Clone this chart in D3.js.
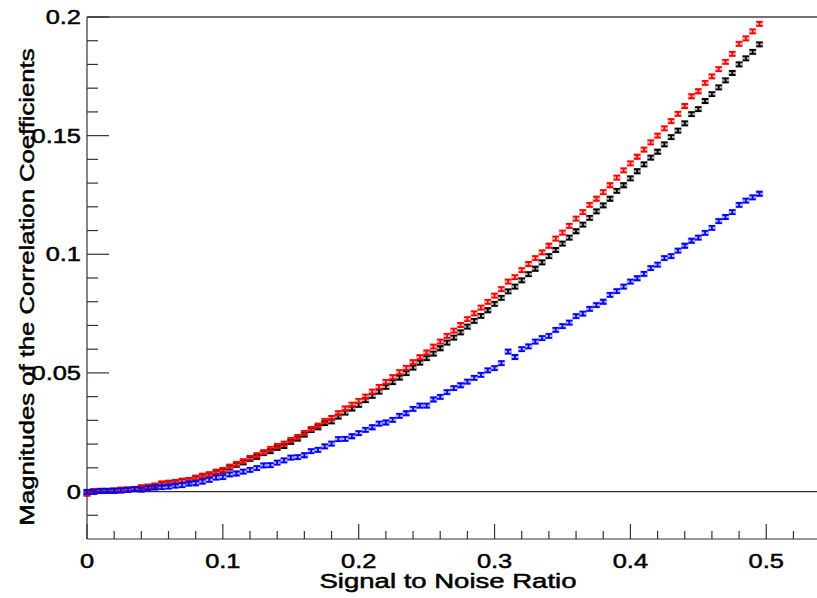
<!DOCTYPE html>
<html><head><meta charset="utf-8">
<script src="https://cdn.jsdelivr.net/npm/d3@7"></script>
<style>html,body{margin:0;padding:0;background:#fff;}svg{display:block;}</style>
</head><body>
<svg id="chart" width="817" height="598"></svg>
<script>
const snr = [0,0.005,0.01,0.015,0.02,0.025,0.03,0.035,0.04,0.045,0.05,0.055,0.06,0.065,0.07,0.075,0.08,0.085,0.09,0.095,
0.1,0.105,0.11,0.115,0.12,0.125,0.13,0.135,0.14,0.145,0.15,0.155,0.16,0.165,0.17,0.175,0.18,0.185,0.19,0.195,
0.2,0.205,0.21,0.215,0.22,0.225,0.23,0.235,0.24,0.245,0.25,0.255,0.26,0.265,0.27,0.275,0.28,0.285,0.29,0.295,
0.3,0.305,0.31,0.315,0.32,0.325,0.33,0.335,0.34,0.345,0.35,0.355,0.36,0.365,0.37,0.375,0.38,0.385,0.39,0.395,
0.4,0.405,0.41,0.415,0.42,0.425,0.43,0.435,0.44,0.445,0.45,0.455,0.46,0.465,0.47,0.475,0.48,0.485,0.49,0.495];

const redSeries = [-0.0008,0.0002,0.0003,0.0003,0.0004,0.0008,0.0008,0.0011,0.0017,0.0021,0.0025,0.0034,0.0037,0.0041,0.0046,0.0049,0.0059,0.0067,0.0073,0.0084,
0.0091,0.0105,0.0117,0.0128,0.0142,0.0153,0.0166,0.018,0.0192,0.0202,0.0218,0.023,0.0247,0.0264,0.0278,0.0298,0.031,0.033,0.035,0.0366,
0.0382,0.04,0.0421,0.0441,0.0462,0.0482,0.0503,0.0521,0.0545,0.0566,0.0586,0.0611,0.0632,0.0656,0.0678,0.0702,0.0727,0.0751,0.0775,0.0799,
0.0826,0.0853,0.0885,0.0904,0.0933,0.0959,0.0984,0.1008,0.1036,0.1066,0.1091,0.112,0.115,0.1178,0.1208,0.1234,0.1262,0.1291,0.1323,0.1354,
0.1383,0.1411,0.1441,0.1472,0.15,0.1531,0.1561,0.1592,0.1625,0.1666,0.1687,0.1722,0.175,0.178,0.1811,0.1845,0.1887,0.191,0.1939,0.1971];

const blackSeries = [-0.0008,0.0001,0.0002,0.0003,0.0004,0.0007,0.0008,0.001,0.0016,0.002,0.0024,0.0032,0.0035,0.0039,0.0044,0.0047,0.0056,0.0064,0.007,0.008,
0.0087,0.0101,0.0112,0.0123,0.0138,0.0146,0.0162,0.017,0.0184,0.0192,0.0209,0.0223,0.024,0.0259,0.0271,0.0288,0.0296,0.0316,0.0333,0.035,
0.0365,0.0385,0.0403,0.0421,0.0441,0.0461,0.048,0.0499,0.0522,0.0543,0.0562,0.0581,0.0604,0.0628,0.0649,0.0671,0.0695,0.0719,0.074,0.0764,
0.0791,0.0816,0.0844,0.0864,0.089,0.0916,0.0939,0.0966,0.0992,0.1018,0.1045,0.107,0.1097,0.1125,0.1153,0.1181,0.1206,0.1234,0.1267,0.1291,
0.132,0.135,0.1379,0.1407,0.1432,0.1463,0.1494,0.1521,0.1552,0.1591,0.1612,0.1646,0.1675,0.1703,0.1733,0.1764,0.18,0.1826,0.1853,0.1885];

const blueSeries = [-0.0001,-0.0001,0.0003,0.0003,0.0003,0.0004,0.0007,0.001,0.0008,0.0014,0.0017,0.0019,0.0021,0.0025,0.0027,0.0034,0.0035,0.0042,0.0049,0.0059,
0.0061,0.0072,0.0076,0.0084,0.0091,0.0099,0.011,0.0111,0.0122,0.0131,0.0143,0.0145,0.0153,0.017,0.0176,0.019,0.0202,0.0221,0.0222,0.0233,
0.0246,0.026,0.0271,0.0286,0.0291,0.0302,0.0319,0.033,0.0348,0.0362,0.0362,0.0388,0.0399,0.0419,0.0436,0.0448,0.0463,0.0479,0.0492,0.0511,
0.052,0.0541,0.059,0.0567,0.06,0.0612,0.0632,0.0647,0.0656,0.0681,0.0697,0.0712,0.0739,0.075,0.077,0.0786,0.08,0.0829,0.0845,0.0864,
0.0885,0.0899,0.0917,0.0942,0.0956,0.0984,0.0992,0.1015,0.1036,0.1057,0.107,0.109,0.1111,0.114,0.1157,0.1178,0.1208,0.1226,0.124,0.1255];

const xMajorTicks = [0,0.1,0.2,0.3,0.4,0.5];
const xTickLabels = ["0","0.1","0.2","0.3","0.4","0.5"];
const xMinorTicks = [0.02,0.04,0.06,0.08,0.12,0.14,0.16,0.18,0.22,0.24,0.26,0.28,0.32,0.34,0.36,0.38,0.42,0.44,0.46,0.48,0.52];
const yMajorTicks = [0,0.05,0.1,0.15,0.2];
const yTickLabels = ["0","0.05","0.1","0.15","0.2"];
const yMinorTicks = [-0.01,0.01,0.02,0.03,0.04,0.06,0.07,0.08,0.09,0.11,0.12,0.13,0.14,0.16,0.17,0.18,0.19];
const xTitle = "Signal to Noise Ratio";
const yTitle = "Magnitudes of the Correlation Coefficients";

const svg = d3.select("#chart");
const x = d3.scaleLinear().domain([0, 0.54]).range([87, 820.6]);
const y = d3.scaleLinear().domain([-0.02, 0.2]).range([539, 17]);
const FONT = "'Liberation Sans', Arial, sans-serif";
const SX = 1.24;

function styleText(sel, size) {
  return sel.attr("font-family", FONT).attr("font-size", size || 20).attr("fill", "#000")
    .attr("stroke", "#000").attr("stroke-width", 0.5);
}

const axisColor = "#333";
svg.append("line").attr("x1", x(0)).attr("x2", 817).attr("y1", y(0.2)).attr("y2", y(0.2))
  .attr("stroke", "#444").attr("stroke-width", 1.5);
svg.append("line").attr("x1", x(0)).attr("x2", 817).attr("y1", y(-0.02)).attr("y2", y(-0.02))
  .attr("stroke", axisColor).attr("stroke-width", 1.2);
svg.append("line").attr("x1", x(0)).attr("x2", x(0)).attr("y1", y(0.2)).attr("y2", y(-0.02))
  .attr("stroke", axisColor).attr("stroke-width", 1.2);
svg.append("line").attr("x1", x(0)).attr("x2", 817).attr("y1", y(0)).attr("y2", y(0))
  .attr("stroke", axisColor).attr("stroke-width", 1.2);

const xb = y(-0.02);
svg.append("g").selectAll("line").data(xMajorTicks).join("line")
  .attr("x1", d => x(d)).attr("x2", d => x(d)).attr("y1", xb).attr("y2", xb - 15)
  .attr("stroke", axisColor).attr("stroke-width", 1.2);
svg.append("g").selectAll("line").data(xMinorTicks).join("line")
  .attr("x1", d => x(d)).attr("x2", d => x(d)).attr("y1", xb).attr("y2", xb - 8)
  .attr("stroke", axisColor).attr("stroke-width", 1.2);
styleText(svg.append("g").selectAll("text").data(xMajorTicks).join("text")
  .attr("transform", d => `translate(${x(d)},568) scale(${SX},1)`).attr("text-anchor", "middle")
  .text((d, i) => xTickLabels[i]), 20.5);

const yl = x(0);
svg.append("g").selectAll("line").data(yMajorTicks).join("line")
  .attr("x1", yl).attr("x2", yl + 22).attr("y1", d => y(d)).attr("y2", d => y(d))
  .attr("stroke", axisColor).attr("stroke-width", 1.2);
svg.append("g").selectAll("line").data(yMinorTicks).join("line")
  .attr("x1", yl).attr("x2", yl + 11).attr("y1", d => y(d)).attr("y2", d => y(d))
  .attr("stroke", axisColor).attr("stroke-width", 1.2);
styleText(svg.append("g").selectAll("text").data(yMajorTicks).join("text")
  .attr("transform", d => `translate(81,${y(d) + 7.2}) scale(${SX},1)`).attr("text-anchor", "end")
  .text((d, i) => yTickLabels[i]), 20.5);

styleText(svg.append("text").attr("x", 448).attr("y", 588).attr("text-anchor", "middle")
  .attr("textLength", 257).attr("lengthAdjust", "spacingAndGlyphs")
  .text(xTitle));
styleText(svg.append("text").attr("transform", "translate(34,287) rotate(-90)").attr("text-anchor", "middle")
  .attr("textLength", 477).attr("lengthAdjust", "spacingAndGlyphs")
  .text(yTitle));

function drawSeries(vals, color) {
  const g = svg.append("g");
  const pts = snr.map((s, i) => [s, vals[i]]);
  g.selectAll("rect").data(pts).join("rect")
    .attr("x", d => x(d[0]) - 3.8).attr("y", d => y(d[1]) - 3.2)
    .attr("width", 7.6).attr("height", 6.4)
    .attr("fill", color).attr("fill-opacity", 0.3);
  g.selectAll("path").data(pts).join("path")
    .attr("d", d => {
      const cx = x(d[0]), cy = y(d[1]);
      return `M${cx-3.2},${cy-2}H${cx+3.2}M${cx-3.2},${cy+2}H${cx+3.2}M${cx},${cy-2}V${cy+2}`;
    })
    .attr("stroke", color).attr("stroke-width", 1.8).attr("fill", "none");
}
drawSeries(blackSeries, "#000");
drawSeries(redSeries, "#ff0000");
drawSeries(blueSeries, "#0000ff");
</script>
</body></html>
